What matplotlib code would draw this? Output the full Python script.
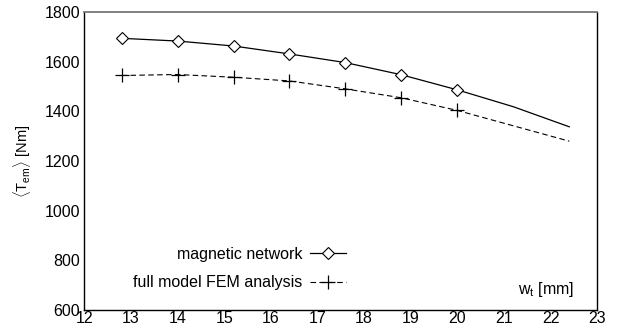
import matplotlib
matplotlib.use("Agg")
import matplotlib.pyplot as plt

# width of tooth [mm]
wt = [12.8, 14.0, 15.2, 16.4, 17.6, 18.8, 20.0, 21.2, 22.4]
# mean torque [Nm]
t_network = [1695, 1684, 1664, 1632, 1597, 1548, 1487, 1419, 1338]
t_fem = [1545, 1549, 1538, 1523, 1491, 1455, 1404, 1342, 1280]
n_marked = 7

xticks = list(range(12, 24))
yticks = [600, 800, 1000, 1200, 1400, 1600, 1800]

plt.rcParams['font.family'] = ['Liberation Sans', 'DejaVu Sans']
plt.rcParams['mathtext.fontset'] = 'custom'
plt.rcParams['mathtext.rm'] = 'Liberation Sans'
plt.rcParams['mathtext.it'] = 'Liberation Sans'

fig = plt.figure(figsize=(6.21, 3.34), dpi=100)
ax = fig.add_axes([0.1357, 0.0727, 0.8261, 0.8905])

ax.plot(wt, t_network, color='black', lw=0.9, marker='D', markersize=6.5,
        markerfacecolor='white', markeredgewidth=0.8, markevery=list(range(n_marked)),
        label='magnetic network')
ax.plot(wt, t_fem, color='black', lw=0.8, dashes=(5, 3), marker='+', markersize=10,
        markeredgewidth=0.9, markevery=list(range(n_marked)),
        label='full model FEM analysis')

ax.set_xlim(12, 23)
ax.set_ylim(600, 1800)
ax.set_xticks(xticks)
ax.set_yticks(yticks)
ax.set_xticks(range(13, 21), minor=True)
ax.tick_params(axis='both', which='major', length=0, labelsize=11.5, pad=3)
ax.tick_params(axis='x', which='minor', direction='in', length=4, top=True, bottom=True, width=0.8)
ax.tick_params(axis='x', which='major', pad=1)

for side in ['left', 'bottom', 'right']:
    ax.spines[side].set_linewidth(1.0)
ax.spines['top'].set_color('#777777')
ax.spines['top'].set_linewidth(1.3)

ax.set_ylabel(r'$\langle\mathrm{T}_{\mathrm{em}}\rangle$ [Nm]', fontsize=10.5, labelpad=8)
ax.text(0.90, 0.067, r'w$_\mathrm{t}$ [mm]', transform=ax.transAxes, fontsize=11.5,
        ha='center', va='center')

leg = ax.legend(loc='lower right', bbox_to_anchor=(0.511, 0.065), frameon=False,
                markerfirst=False, fontsize=11.5, handlelength=2.25, labelspacing=0.85,
                handletextpad=0.5, borderaxespad=0, borderpad=0)
for t in leg.get_texts():
    t.set_ha('right')
leg._legend_box.align = 'right'

fig.savefig('out.png', dpi=100)
